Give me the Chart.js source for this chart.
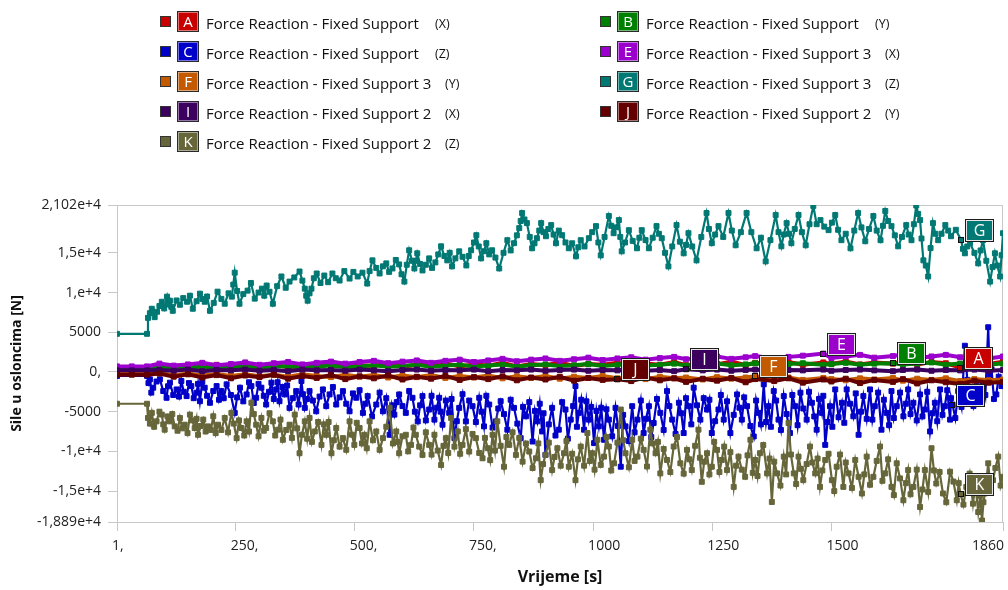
<!DOCTYPE html>
<html>
<head>
<meta charset="utf-8">
<script src="https://cdn.jsdelivr.net/npm/chart.js@4.4.1/dist/chart.umd.min.js"></script>
<style>
html,body{margin:0;padding:0;background:#fff;}
#wrap{position:relative;width:1008px;height:590px;overflow:hidden;font-family:"Open Sans",sans-serif;}
#c{position:absolute;left:0;top:0;}
.lg{position:absolute;box-sizing:border-box;}
.lsq{width:11px;height:11px;border:1px solid #333;}
.lbox{width:22px;height:21px;border:1px solid #2a2a2a;box-shadow:inset 0 0 0 1px rgba(255,255,255,0.45);color:#fff;font-size:15px;line-height:19px;text-align:center;}
.ltxt{font-size:15px;line-height:21px;color:#111;white-space:pre;}
.lsuf{font-size:12.5px;line-height:21px;color:#111;white-space:pre;}
</style>
</head>
<body>
<div id="wrap">
<canvas id="c" width="1008" height="590"></canvas>
<div id="legend"></div>
</div>
<script>
// ---------- series meta ----------
const seriesLetters = ['A','B','C','E','F','G','I','J','K'];
const seriesNames = [
  'Force Reaction - Fixed Support','Force Reaction - Fixed Support','Force Reaction - Fixed Support',
  'Force Reaction - Fixed Support 3','Force Reaction - Fixed Support 3','Force Reaction - Fixed Support 3',
  'Force Reaction - Fixed Support 2','Force Reaction - Fixed Support 2','Force Reaction - Fixed Support 2'];
const seriesAxes = ['(X)','(Y)','(Z)','(X)','(Y)','(Z)','(X)','(Y)','(Z)'];
const seriesColors = ['#c80000','#008000','#0000c8','#9b00cd','#c35a00','#007873','#3c005f','#640000','#66663a'];

// probe label anchors (time, force)
const labelTime  = [1770, 1629, 1754, 1483, 1340, 1772, 1195, 1051, 1771];
const labelValue = [560, 1100, -4100, 2310, -550, 16620, 340, -930, -15390];

// ---------- axes ----------
const xTickValues = [1, 250, 500, 750, 1000, 1250, 1500, 1860];
const xTickLabels = ['1,', '250,', '500,', '750,', '1000', '1250', '1500', '1860'];
const yTickValues = [-18890, -15000, -10000, -5000, 0, 5000, 10000, 15000, 21020];
const yTickLabels = ['-1,889e+4', '-1,5e+4', '-1,e+4', '-5000', '0,', '5000', '1,e+4', '1,5e+4', '2,102e+4'];

// ---------- small-amplitude series (shared time) ----------
const bandTime = [1, 32, 64, 90, 120, 150, 180, 210, 240, 270,
  300, 330, 360, 390, 420, 450, 480, 510, 540, 570,
  600, 630, 660, 690, 720, 750, 780, 810, 840, 870,
  900, 930, 960, 990, 1020, 1051, 1080, 1110, 1140, 1170,
  1195, 1230, 1260, 1290, 1320, 1340, 1380, 1410, 1440, 1483,
  1500, 1530, 1560, 1590, 1629, 1650, 1680, 1710, 1740, 1770,
  1800, 1830, 1860];
const forceA = [550, 550, 550, 700, 450, 800, 600, 900, 500, 750,
  650, 950, 550, 800, 700, 1000, 600, 850, 750, 1050,
  650, 900, 800, 1100, 700, 950, 800, 1150, 700, 1000,
  850, 1200, 750, 1000, 900, 1150, 800, 1050, 900, 1250,
  850, 1100, 950, 1300, 850, 1150, 1000, 1250, 900, 1200,
  1000, 1300, 950, 1200, 1050, 1350, 950, 1250, 1100, 560,
  1200, 1000, 1300];
const forceB = [450, 450, 450, 600, 400, 550, 650, 450, 600, 700,
  500, 650, 750, 550, 700, 800, 600, 700, 850, 650,
  750, 900, 650, 800, 900, 700, 800, 950, 700, 850,
  950, 750, 850, 1000, 750, 900, 1000, 800, 900, 1050,
  800, 950, 1050, 850, 950, 1100, 850, 1000, 1100, 900,
  1000, 1150, 900, 1050, 1100, 950, 1050, 1200, 900, 1050,
  1150, 950, 1050];
const forceE = [700, 700, 700, 1050, 800, 950, 1150, 850, 1000, 1200,
  900, 1100, 1250, 950, 1150, 1300, 1050, 1250, 1400, 1100,
  1300, 1450, 1150, 1400, 1550, 1250, 1450, 1650, 1350, 1550,
  1700, 1400, 1600, 1800, 1500, 1700, 1850, 1550, 1750, 1900,
  1600, 1800, 1950, 1650, 1850, 2000, 1700, 1900, 2050, 2310,
  1750, 1950, 2150, 1800, 2000, 2200, 1750, 1950, 2150, 1850,
  2050, 1700, 1950];
const forceF = [-250, -250, -250, -100, -400, -200, -450, -250, -500, -300,
  -550, -350, -600, -300, -500, -650, -350, -600, -400, -700,
  -450, -650, -400, -750, -500, -700, -450, -800, -550, -750,
  -500, -850, -600, -750, -500, -800, -650, -900, -600, -800,
  -700, -950, -650, -850, -700, -550, -900, -700, -1000, -750,
  -900, -1050, -800, -950, -750, -1100, -850, -1000, -800, -1150,
  -900, -1050, -950];
const forceI = [200, 200, 200, 250, 150, 300, 100, 250, 200, 300,
  150, 250, 100, 300, 200, 250, 150, 300, 200, 100,
  250, 300, 150, 250, 200, 300, 100, 250, 200, 300,
  150, 250, 300, 150, 250, 200, 300, 150, 250, 100,
  340, 200, 300, 150, 250, 300, 100, 250, 200, 300,
  150, 250, 300, 200, 100, 250, 300, 150, 250, 200,
  300, 150, 250];
const forceJ = [-350, -350, -350, -200, -600, -300, -700, -400, -800, -450,
  -650, -350, -850, -500, -750, -400, -900, -550, -800, -450,
  -950, -600, -850, -500, -1000, -650, -900, -550, -1050, -700,
  -950, -600, -1100, -750, -1000, -930, -1150, -700, -1050, -800,
  -1250, -850, -1100, -750, -1300, -900, -1150, -800, -1350, -950,
  -1200, -850, -1400, -1000, -1250, -900, -1450, -1050, -1300, -1500,
  -1100, -1350, -1250];

// ---------- C : Fixed Support (Z) ----------
const cTime = [
  1, 64, 67, 70, 73, 77, 84, 91, 98, 105, 108, 112, 119, 126, 131, 136, 141, 147,
  152, 157, 162, 168, 171, 175, 180, 185, 190, 196, 203, 210, 215, 220, 225, 231, 240, 248, 253, 259,
  266, 273, 278, 283, 288, 293, 298, 304, 309, 314, 320, 325, 330, 335, 338, 342, 348, 353, 358, 363,
  370, 377, 382, 388, 391, 395, 400, 405, 412, 419, 426, 433, 440, 447, 454, 461, 468, 475, 482, 489,
  496, 503, 510, 517, 522, 527, 536, 545, 552, 559, 566, 573, 578, 583, 588, 593, 600, 607, 614, 621,
  626, 632, 637, 642, 649, 656, 661, 667, 672, 677, 680, 684, 691, 698, 703, 709, 714, 719, 726, 733,
  740, 747, 754, 761, 766, 771, 776, 782, 789, 796, 801, 806, 813, 820, 827, 834, 841, 848, 853, 859,
  866, 873, 878, 883, 888, 893, 896, 900, 907, 914, 921, 928, 935, 942, 947, 953, 958, 963, 966, 970,
  975, 981, 986, 991, 996, 1002, 1007, 1012, 1017, 1023, 1028, 1033, 1040, 1047, 1052, 1058, 1063, 1068, 1075, 1082,
  1087, 1093, 1100, 1106, 1111, 1117, 1122, 1127, 1134, 1141, 1148, 1155, 1160, 1166, 1173, 1180, 1185, 1190, 1195, 1201,
  1206, 1211, 1218, 1225, 1232, 1239, 1244, 1249, 1256, 1263, 1268, 1274, 1281, 1288, 1295, 1302, 1307, 1312, 1317, 1323,
  1330, 1337, 1342, 1347, 1352, 1358, 1363, 1368, 1373, 1379, 1384, 1389, 1394, 1400, 1406, 1413, 1418, 1424, 1429, 1435,
  1441, 1448, 1453, 1459, 1464, 1469, 1474, 1480, 1483, 1487, 1492, 1497, 1502, 1508, 1515, 1522, 1527, 1532, 1539, 1546,
  1551, 1557, 1562, 1567, 1574, 1581, 1586, 1591, 1598, 1605, 1610, 1616, 1621, 1626, 1631, 1637, 1644, 1651, 1656, 1661,
  1666, 1672, 1679, 1686, 1691, 1696, 1701, 1707, 1712, 1717, 1722, 1728, 1733, 1738, 1743, 1749, 1751, 1754, 1760, 1766,
  1773, 1780, 1785, 1791, 1798, 1805, 1811, 1818, 1823, 1829, 1832, 1836, 1841, 1846, 1851, 1857, 1860];
const forceC = [
  -500, -500, -1400, -930, -2600, -1980, -1200, -930, -2400, -3250, -1800, -1350, -2900, -2200, -3100, -1140, -2500, -3040,
  -1400, -1780, -3300, -2610, -1500, -3680, -1200, -1980, -3000, -3880, -2400, -1780, -3500, -2410, -3300, -1560, -2900, -5150, -3200, -1980,
  -3700, -2830, -1300, -1780, -3900, -3250, -1500, -1980, -3000, -4100, -2500, -1350, -3400, -2200, -1300, -3680, -1900, -2830, -1700, -4520,
  -3300, -2410, -4100, -1140, -2800, -4520, -3400, -2410, -3600, -4950, -3100, -2200, -4300, -2830, -1900, -4100, -3200, -2410, -4000, -4950,
  -2700, -3250, -2300, -5150, -4000, -3040, -5600, -4100, -2600, -4950, -3300, -7910, -4200, -5370, -3800, -2830, -4300, -5150, -2400, -3250,
  -5000, -6220, -4200, -3040, -6100, -4730, -3000, -6000, -4500, -3250, -5000, -6640, -3600, -5150, -3400, -8330, -6200, -4520, -2800, -6220,
  -3600, -4310, -6300, -3250, -5000, -6850, -3000, -4100, -7000, -6220, -4600, -3680, -5300, -7270, -3500, -4520, -6500, -8330, -4400, -5580,
  -3800, -8760, -4900, -6220, -4000, -7490, -5200, -10440, -6600, -4520, -8000, -7270, -3800, -4730, -8400, -6000, -4300, -1780, -6900, -5150,
  -3500, -7270, -3700, -6000, -4400, -8960, -4900, -6850, -4500, -8540, -4700, -6000, -8100, -4520, -6800, -11930, -5400, -6850, -8700, -4310,
  -7600, -6000, -3600, -7690, -5900, -4310, -8200, -6420, -3400, -5150, -7300, -2410, -4300, -6000, -7800, -3880, -5200, -7690, -3300, -4310,
  -6600, -1980, -4200, -6000, -3300, -4730, -3500, -7690, -6200, -4730, -2900, -6000, -3700, -7690, -5400, -2830, -4500, -6000, -3200, -4310,
  -6800, -8120, -3600, -5150, -6600, -1560, -6300, -4310, -6900, -2410, -3600, -6000, -7300, -3040, -5300, -7690, -2900, -4310, -6700, -2610,
  -4600, -6000, -2500, -3880, -5600, -7270, -3400, -5150, -3000, -9180, -6300, -4310, -6900, -2200, -5700, -3880, -6400, -2200, -4000, -5580,
  -2700, -7910, -5000, -3040, -5900, -2200, -6000, -4310, -2600, -7270, -3500, -5150, -6700, -2410, -5800, -4310, -2600, -5580, -4000, -2200,
  -5300, -3880, -6100, -2830, -5600, -4730, -2500, -7490, -5200, -3880, -6200, -2200, -5400, -4310, -2300, -6000, -3300, -4100, -5800, -2410,
  -4400, 3300, -1000, -2610, -4300, -1780, -3500, -1350, -2900, 5630, -400, 340, -3400, -2830, -600, -1780, -1500];

// ---------- G : Fixed Support 3 (Z) ----------
const gTime = [
  1, 64, 66, 70, 74, 80, 85, 90, 95, 100, 106, 109, 112, 115, 118, 126, 133,
  140, 148, 154, 160, 168, 175, 180, 185, 190, 196, 204, 212, 220, 227, 235, 242, 245, 248, 253, 258,
  266, 275, 282, 290, 298, 305, 310, 315, 321, 328, 337, 346, 355, 363, 373, 384, 390, 395, 398, 401,
  405, 409, 414, 420, 428, 436, 444, 453, 460, 468, 478, 489, 497, 506, 516, 526, 531, 537, 545, 552,
  559, 566, 572, 579, 586, 593, 598, 604, 609, 614, 620, 625, 628, 631, 637, 642, 649, 656, 662, 669,
  675, 681, 688, 694, 699, 704, 711, 719, 726, 734, 739, 744, 750, 755, 760, 765, 771, 776, 782, 788,
  795, 803, 812, 820, 827, 834, 840, 845, 848, 851, 856, 861, 867, 872, 877, 882, 887, 891, 896, 901,
  906, 912, 917, 922, 928, 935, 942, 949, 956, 964, 969, 974, 982, 991, 998, 1006, 1011, 1016, 1024, 1033,
  1038, 1043, 1048, 1054, 1057, 1060, 1067, 1075, 1083, 1092, 1097, 1102, 1110, 1117, 1125, 1133, 1138, 1144, 1151, 1158,
  1166, 1175, 1182, 1190, 1195, 1200, 1208, 1217, 1227, 1238, 1243, 1249, 1256, 1263, 1273, 1284, 1291, 1299, 1310, 1322,
  1332, 1343, 1352, 1362, 1372, 1383, 1389, 1395, 1400, 1406, 1411, 1416, 1423, 1431, 1438, 1446, 1454, 1462, 1469, 1477,
  1485, 1494, 1501, 1508, 1514, 1521, 1530, 1540, 1548, 1556, 1563, 1571, 1579, 1588, 1595, 1603, 1608, 1613, 1619, 1626,
  1633, 1640, 1648, 1657, 1662, 1668, 1673, 1678, 1682, 1686, 1689, 1693, 1698, 1703, 1708, 1713, 1718, 1724, 1731, 1739,
  1745, 1751, 1761, 1772, 1776, 1780, 1785, 1791, 1800, 1808, 1813, 1818, 1825, 1833, 1838, 1843, 1848, 1854, 1857, 1860];
const forceG = [
  4800, 4800, 6810, 7400, 7960, 6900, 7580, 8300, 8840, 8000, 9480, 8500, 8970, 8200, 7700, 9000, 8460,
  9300, 8840, 9600, 7960, 8900, 9860, 9200, 8840, 9500, 7700, 8700, 10110, 9200, 8590, 9900, 9480, 11000, 12500, 10200, 8590,
  9800, 10240, 11200, 9230, 10000, 10490, 9600, 10880, 10100, 8590, 10800, 12020, 10600, 11380, 11900, 12650, 11500, 10490, 9600, 8970,
  9900, 10490, 11800, 12400, 11200, 12140, 11300, 12400, 11800, 11510, 12700, 11760, 12600, 12020, 12500, 11130, 12700, 14050, 13100, 12400,
  13300, 13670, 12600, 13030, 14100, 13540, 12300, 11380, 13500, 15320, 14000, 13030, 14000, 14940, 13600, 12780, 13500, 14300, 13100, 13790,
  14800, 15820, 14600, 14050, 15000, 13290, 14300, 15190, 14500, 13410, 14600, 15320, 16300, 17220, 15800, 14300, 15200, 16210, 14800, 15320,
  14400, 13030, 15000, 16590, 15300, 16210, 17200, 18110, 19000, 20010, 19200, 18740, 17000, 15570, 16200, 16840, 17800, 18740, 17600, 17090,
  18000, 18490, 17300, 16210, 17800, 17220, 16300, 15570, 16200, 14560, 15700, 16590, 15800, 16840, 17600, 18360, 16300, 14680, 17000, 19630,
  18400, 17470, 18200, 19120, 17000, 15190, 16300, 17850, 16500, 15570, 16900, 17850, 16600, 15570, 16900, 18360, 17400, 16840, 15000, 13290,
  15800, 18490, 16400, 14940, 16000, 17470, 15800, 14050, 17000, 20010, 18000, 16210, 17300, 18360, 17000, 20010, 17800, 15950, 17600, 20010,
  17600, 15570, 16900, 13920, 16600, 19760, 17600, 15820, 17300, 18740, 17400, 16210, 18000, 19760, 17600, 15950, 18600, 20900, 18600, 19120,
  18300, 17850, 18800, 19760, 17900, 16590, 17400, 15570, 17800, 20010, 18200, 16460, 18000, 19630, 17800, 16590, 18400, 20270, 19000, 18360,
  17200, 15820, 17000, 18490, 17300, 16590, 18600, 20950, 19900, 19120, 16800, 14050, 13400, 12020, 15600, 18740, 17400, 16590, 17400, 18490,
  17800, 17090, 17900, 16620, 15500, 14940, 15800, 16210, 15000, 13670, 15300, 16590, 14000, 11380, 13200, 14940, 13400, 12020, 14700, 17470];

// ---------- K : Fixed Support 2 (Z) ----------
const kTime = [
  1, 64, 66, 70, 74, 79, 84, 90, 95, 98, 101, 107, 112, 117, 122, 128, 133,
  138, 143, 149, 154, 159, 164, 168, 171, 177, 182, 187, 192, 198, 203, 208, 213, 220, 227, 234, 241,
  246, 252, 257, 262, 268, 273, 278, 283, 288, 293, 298, 304, 309, 314, 321, 328, 333, 339, 344, 349,
  356, 363, 368, 374, 379, 384, 389, 395, 400, 405, 410, 416, 423, 430, 435, 440, 445, 451, 456, 461,
  468, 475, 482, 489, 494, 499, 504, 510, 515, 520, 525, 531, 538, 545, 552, 559, 566, 573, 580, 587,
  590, 593, 600, 607, 612, 618, 623, 628, 635, 642, 649, 656, 661, 667, 674, 681, 686, 691, 696, 702,
  709, 716, 721, 726, 733, 740, 747, 754, 761, 768, 773, 779, 784, 789, 794, 799, 806, 813, 818, 824,
  831, 838, 845, 852, 859, 866, 873, 880, 885, 890, 895, 900, 907, 914, 919, 925, 932, 939, 944, 949,
  956, 963, 968, 974, 981, 988, 993, 998, 1003, 1009, 1016, 1023, 1028, 1033, 1038, 1044, 1051, 1058, 1063, 1068,
  1075, 1082, 1087, 1093, 1100, 1106, 1113, 1120, 1125, 1131, 1136, 1141, 1148, 1155, 1162, 1169, 1176, 1183, 1190, 1197,
  1202, 1207, 1214, 1221, 1224, 1228, 1233, 1239, 1244, 1249, 1254, 1260, 1265, 1270, 1275, 1281, 1288, 1295, 1300, 1305,
  1312, 1319, 1324, 1330, 1335, 1340, 1345, 1350, 1357, 1365, 1370, 1375, 1380, 1386, 1393, 1400, 1405, 1410, 1415, 1421,
  1426, 1431, 1436, 1441, 1448, 1455, 1460, 1466, 1471, 1476, 1481, 1487, 1494, 1501, 1506, 1511, 1518, 1525, 1530, 1536,
  1543, 1550, 1557, 1564, 1569, 1574, 1581, 1588, 1595, 1602, 1607, 1613, 1619, 1626, 1631, 1637, 1644, 1651, 1656, 1661,
  1666, 1672, 1679, 1686, 1691, 1696, 1703, 1710, 1715, 1720, 1727, 1734, 1741, 1749, 1756, 1763, 1767, 1771, 1777, 1783,
  1790, 1797, 1802, 1808, 1812, 1816, 1819, 1822, 1826, 1829, 1834, 1839, 1844, 1850, 1855, 1860];
const forceK = [
  -4000, -4000, -5790, -6500, -5150, -6900, -6220, -5000, -5370, -6600, -7270, -5600, -6220, -5300, -6850, -7400, -5790,
  -7100, -6640, -7700, -5370, -6100, -7060, -5900, -7910, -6800, -6000, -7500, -6850, -7300, -5580, -7700, -6640, -7300, -5790, -7600, -5150,
  -6500, -8330, -6100, -7060, -8000, -6220, -7500, -3880, -5300, -6640, -8100, -5790, -7400, -7060, -5200, -6220, -8000, -7270, -6000, -8540,
  -7300, -6640, -8300, -5370, -7100, -10230, -7900, -6220, -8400, -5790, -8800, -7490, -6300, -9180, -6600, -7910, -6300, -10230, -8600, -7060,
  -9400, -8330, -9800, -6220, -7900, -9180, -6400, -7060, -9000, -7910, -9600, -6220, -8600, -7490, -9800, -8330, -6900, -4520, -9000, -7490,
  -8800, -10230, -8100, -7910, -10000, -9180, -7000, -7910, -9400, -10440, -7600, -9180, -10400, -7910, -9900, -11710, -9300, -8330, -10200, -5790,
  -9400, -7490, -10300, -9180, -7200, -10020, -7800, -8330, -10200, -10870, -8300, -9600, -11100, -7910, -9900, -6220, -9300, -11930, -8200, -9180,
  -7600, -10440, -8300, -11290, -9000, -10020, -12100, -10870, -9000, -13620, -11600, -10440, -8900, -12350, -10700, -9600, -11800, -10230, -8700, -11930,
  -10300, -13620, -11000, -9390, -11800, -7690, -11200, -10230, -12300, -8540, -11700, -10660, -8200, -9390, -12400, -11500, -8900, -4730, -8600, -10230,
  -12000, -8540, -11200, -10660, -8400, -9810, -11900, -7270, -9000, -10230, -8800, -12770, -9700, -11080, -12600, -9390, -8200, -11500, -12800, -9810,
  -11000, -12350, -9300, -7270, -10800, -13830, -11300, -10230, -12900, -11930, -8800, -9810, -12600, -11080, -9400, -12350, -10100, -14470, -11800, -10660,
  -12300, -13200, -10500, -8540, -12700, -11080, -13100, -10230, -9200, -12770, -10900, -16370, -11300, -12770, -14300, -10660, -12900, -6420, -10400, -12770,
  -14100, -10660, -12200, -13620, -11600, -9390, -11400, -12770, -10900, -14470, -12400, -11080, -10300, -13620, -15000, -11930, -10400, -14470, -11400, -12770,
  -14600, -11080, -13200, -15300, -12900, -10660, -14200, -13200, -11200, -9390, -13700, -12770, -11000, -14470, -15500, -11500, -13400, -16150, -14000, -12350,
  -15400, -14470, -12300, -17000, -14800, -12350, -15100, -9600, -12400, -14040, -12600, -15300, -16400, -12560, -13800, -16150, -14000, -15390, -16700, -14470,
  -12800, -16580, -14200, -17640, -15600, -18700, -16400, -15300, -13200, -11500, -14800, -13620, -12100, -10660, -14300, -13200];

// ---------- build ----------
const FONT = '"Open Sans", "Noto Sans", sans-serif';
function pts(t, v) { return t.map((x, i) => ({ x: x, y: v[i] })); }
const seriesData = [
  pts(bandTime, forceA), pts(bandTime, forceB), pts(cTime, forceC),
  pts(bandTime, forceE), pts(bandTime, forceF), pts(gTime, forceG),
  pts(bandTime, forceI), pts(bandTime, forceJ), pts(kTime, forceK)];
const isBand = [true, true, false, true, true, false, true, true, false];

const datasets = seriesLetters.map((L, i) => ({
  label: L,
  data: seriesData[i],
  borderColor: seriesColors[i],
  backgroundColor: seriesColors[i],
  pointBackgroundColor: seriesColors[i],
  pointBorderColor: seriesColors[i],
  borderWidth: isBand[i] ? 4 : 2.2,
  pointStyle: 'rect',
  pointRadius: 3.5,
  pointBorderWidth: 1,
  tension: 0,
  order: seriesLetters.length - i
}));

// legend (HTML)
const legendEl = document.getElementById('legend');
seriesLetters.forEach((L, i) => {
  const col = i % 2, row = Math.floor(i / 2);
  const x0 = col ? 600 : 160;
  const cy = 21 + row * 30;
  const sq = document.createElement('div');
  sq.className = 'lg lsq'; sq.style.left = x0 + 'px'; sq.style.top = (cy - 5) + 'px';
  sq.style.background = seriesColors[i];
  const bx = document.createElement('div');
  bx.className = 'lg lbox'; bx.style.left = (x0 + 17) + 'px'; bx.style.top = (cy - 10) + 'px';
  bx.style.background = seriesColors[i]; bx.textContent = L;
  const tx = document.createElement('div');
  tx.className = 'lg ltxt'; tx.style.left = (x0 + 46) + 'px'; tx.style.top = (cy - 8) + 'px';
  tx.textContent = seriesNames[i];
  const sf = document.createElement('div');
  const numbered = /\d$/.test(seriesNames[i]);
  sf.className = 'lg lsuf'; sf.style.left = (x0 + (numbered ? 285 : 275)) + 'px'; sf.style.top = (cy - 8) + 'px';
  sf.textContent = seriesAxes[i];
  legendEl.append(sq, bx, tx, sf);
});

const framePlugin = {
  id: 'frame',
  beforeDatasetsDraw(chart) {
    const { ctx, chartArea: a } = chart;
    ctx.save();
    ctx.strokeStyle = '#c8c8c8'; ctx.lineWidth = 1;
    ctx.strokeRect(Math.round(a.left) + 0.5, Math.round(a.top) + 0.5, Math.round(a.right - a.left) - 1, Math.round(a.bottom - a.top));
    ctx.restore();
  }
};

const xLabelPlugin = {
  id: 'xLabels',
  afterDraw(chart) {
    const { ctx, scales: { x }, chartArea: a } = chart;
    ctx.save();
    ctx.font = '14px ' + FONT;
    ctx.fillStyle = '#222';
    ctx.textBaseline = 'middle';
    xTickValues.forEach((v, i) => {
      const px = x.getPixelForValue(v);
      if (i === xTickValues.length - 1) { ctx.textAlign = 'right'; ctx.fillText(xTickLabels[i], px + 1, a.bottom + 24); }
      else { ctx.textAlign = 'left'; ctx.fillText(xTickLabels[i], px - 5, a.bottom + 24); }
    });
    ctx.restore();
  }
};

const probePlugin = {
  id: 'probes',
  afterDatasetsDraw(chart) {
    const { ctx, scales: { x, y } } = chart;
    ctx.save();
    seriesLetters.forEach((L, i) => {
      const px = Math.round(x.getPixelForValue(labelTime[i]));
      const py = Math.round(y.getPixelForValue(labelValue[i]));
      ctx.fillStyle = '#111'; ctx.fillRect(px - 3, py - 3, 6, 6);
      ctx.fillStyle = seriesColors[i]; ctx.fillRect(px - 2, py - 2, 4, 4);
      const bx = px + 4, by = py - 21, bw = 29, bh = 23;
      ctx.fillStyle = '#1c1c1c'; ctx.fillRect(bx, by, bw, bh);
      ctx.fillStyle = '#e6e6e6'; ctx.fillRect(bx + 1, by + 1, bw - 2, bh - 2);
      ctx.fillStyle = seriesColors[i]; ctx.fillRect(bx + 2, by + 2, bw - 4, bh - 4);
      ctx.fillStyle = '#fff'; ctx.font = '16px ' + FONT;
      ctx.textAlign = 'center'; ctx.textBaseline = 'middle';
      ctx.fillText(L, bx + bw / 2, by + bh / 2 + 1);
    });
    ctx.restore();
  }
};

new Chart(document.getElementById('c'), {
  type: 'line',
  data: { datasets: datasets },
  options: {
    responsive: false,
    animation: false,
    events: [],
    layout: { padding: { top: 205, right: 2, left: 0, bottom: 0 } },
    plugins: { legend: { display: false }, tooltip: { enabled: false } },
    scales: {
      x: {
        type: 'linear', min: 1, max: 1860,
        afterBuildTicks: s => { s.ticks = xTickValues.map(v => ({ value: v })); },
        afterFit: s => { s.height = 68; },
        ticks: { display: false },
        grid: { drawOnChartArea: false, drawTicks: true, tickLength: 9, color: '#c8c8c8' },
        border: { color: '#c0c0c0' },
        title: { display: true, text: 'Vrijeme [s]', color: '#111', font: { family: FONT, size: 16, weight: 'bold' }, padding: { top: 0, bottom: 3 } }
      },
      y: {
        type: 'linear', min: -18890, max: 21020,
        afterBuildTicks: s => { s.ticks = yTickValues.map(v => ({ value: v })); },
        afterFit: s => { s.width = 117; },
        ticks: {
          autoSkip: false, padding: 7, color: '#222', font: { family: FONT, size: 14 },
          callback: v => { const i = yTickValues.indexOf(v); return i >= 0 ? yTickLabels[i] : ''; }
        },
        grid: { drawOnChartArea: false, drawTicks: true, tickLength: 9, color: '#c8c8c8' },
        border: { color: '#c0c0c0' },
        title: { display: true, text: 'Sile u osloncima [N]', color: '#111', font: { family: FONT, size: 14, weight: 'bold' }, padding: { top: 9, bottom: 0 } }
      }
    }
  },
  plugins: [framePlugin, xLabelPlugin, probePlugin]
});
</script>
</body>
</html>
